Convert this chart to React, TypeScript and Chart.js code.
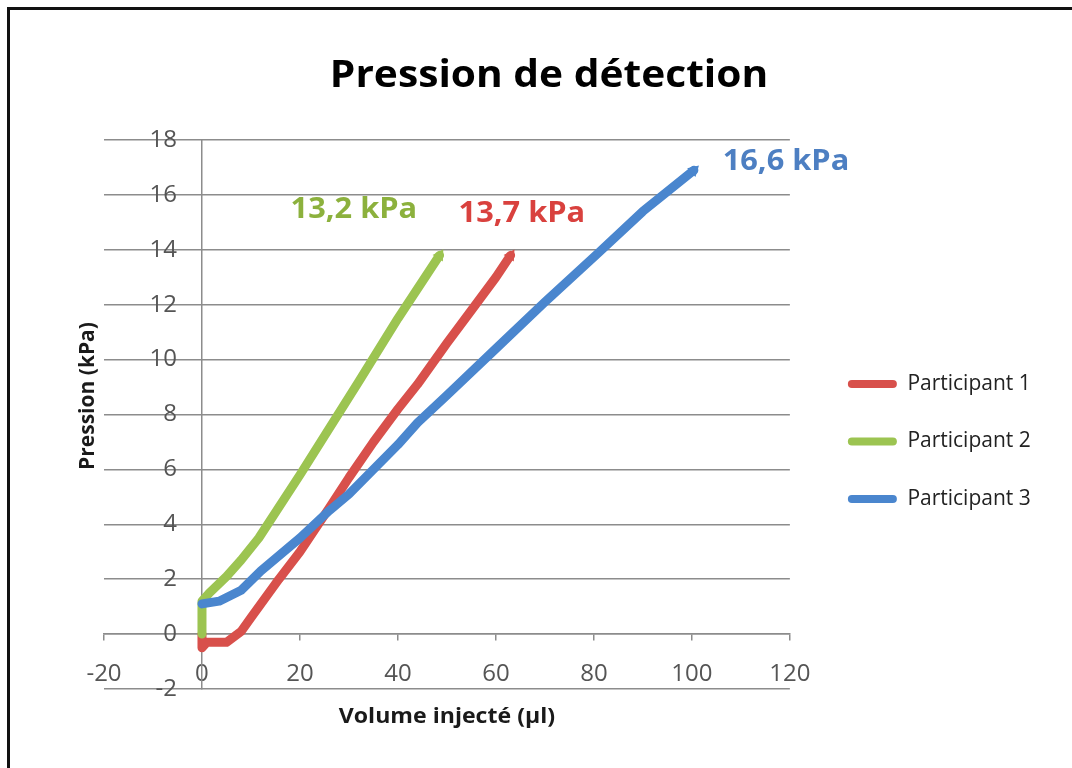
import React, { useEffect, useRef } from 'react';
import { Chart, registerables } from 'chart.js';

Chart.register(...registerables);

// ---- data ----
const seriesLabels = ['Participant 1', 'Participant 2', 'Participant 3'];
const lineColors = ['#D8504B', '#9CC451', '#4A86CE'];
const noteColors = ['#D9413E', '#8CB13D', '#4D7FC2'];
const tipRotation = [33, 32, 47];

const p1X = [0, 0, 1, 5, 8, 10, 15.7, 20, 26, 30, 35, 40, 44, 50, 55, 60, 63];
const p1Y = [0, -0.5, -0.3, -0.3, 0.1, 0.6, 2.0, 3.0, 4.6, 5.7, 7.0, 8.2, 9.1, 10.6, 11.8, 13.0, 13.8];
const p2X = [0, 0, 1.5, 5, 8, 11.6, 20, 32, 40, 48.5];
const p2Y = [0, 1.2, 1.5, 2.1, 2.7, 3.5, 5.8, 9.2, 11.5, 13.8];
const p3X = [0, 3.5, 8, 12, 16, 20, 26, 30, 40, 44, 50, 60, 70, 81, 90, 100.4];
const p3Y = [1.1, 1.2, 1.6, 2.3, 2.9, 3.5, 4.5, 5.1, 6.9, 7.7, 8.7, 10.4, 12.1, 13.9, 15.4, 16.9];

const noteTexts = ['13,7 kPa', '13,2 kPa', '16,6 kPa'];
const noteX = [65.3, 31, 119.2];
const noteY = [15.3, 15.45, 17.2];

const chartTitle = 'Pression de détection';
const xTitle = 'Volume injecté (µl)';
const yTitle = 'Pression (kPa)';

const xMin = -20, xMax = 120, xStep = 20;
const yMin = -2, yMax = 18, yStep = 2;

const FONT = '"Open Sans", sans-serif';
const STRETCH = 1.1;
const LEGEND_SHIFT = 21.5;

const toPoints = (xs: number[], ys: number[]) => xs.map((x, i) => ({ x, y: ys[i] }));

const drawText = (ctx: any, t: string, x: number, y: number, rot = 0) => {
  ctx.save();
  ctx.translate(x, y);
  if (rot) ctx.rotate(rot);
  else ctx.scale(STRETCH, 1);
  ctx.fillText(t, 0, 0);
  ctx.restore();
};

const textPlugin = {
  id: 'texts',
  afterLayout(chart: any) {
    const l = chart.legend;
    if (l) {
      l.left += LEGEND_SHIFT;
      l.right += LEGEND_SHIFT;
    }
  },
  afterDraw(chart: any) {
    const { ctx, scales, chartArea } = chart;
    ctx.save();
    ctx.textAlign = 'center';
    ctx.textBaseline = 'middle';
    ctx.fillStyle = '#000';
    ctx.font = `bold 37px ${FONT}`;
    drawText(ctx, chartTitle, 549, 76);
    ctx.fillStyle = '#1a1a1a';
    ctx.font = `bold 21px ${FONT}`;
    drawText(ctx, xTitle, (chartArea.left + chartArea.right) / 2, 717);
    drawText(ctx, yTitle, 88, 396, -Math.PI / 2);
    ctx.font = `bold 28px ${FONT}`;
    noteTexts.forEach((t, i) => {
      ctx.fillStyle = noteColors[i];
      drawText(ctx, t, scales.x.getPixelForValue(noteX[i]), scales.y.getPixelForValue(noteY[i]));
    });
    ctx.restore();
  },
};

export default function App() {
  const ref = useRef<HTMLCanvasElement>(null);
  useEffect(() => {
    if (!ref.current) return;
    const series = [toPoints(p1X, p1Y), toPoints(p2X, p2Y), toPoints(p3X, p3Y)];
    const chart = new Chart(ref.current, {
      type: 'line',
      data: {
        datasets: series.map((data, i) => ({
          label: seriesLabels[i],
          data,
          xAxisID: 'x',
          yAxisID: 'y',
          borderColor: lineColors[i],
          backgroundColor: lineColors[i],
          borderWidth: 9,
          borderCapStyle: 'round',
          borderJoinStyle: 'round',
          pointRadius: (c: any) => (c.dataIndex === data.length - 1 ? 7 : 0),
          pointStyle: 'triangle',
          pointRotation: tipRotation[i],
          pointBorderWidth: 0,
          pointBackgroundColor: lineColors[i],
          tension: 0,
          fill: false,
          order: 2 - i,
        })),
      },
      options: {
        responsive: false,
        animation: false,
        layout: { padding: { left: 104, top: 140, bottom: 79, right: 53.5 } },
        plugins: {
          title: { display: false },
          tooltip: { enabled: false },
          legend: {
            display: true,
            position: 'right',
            title: { display: true, text: '', font: { size: 12 }, padding: { top: 0, bottom: 39.6 } },
            labels: {
              font: { family: FONT, size: 21 },
              color: '#222',
              boxWidth: 49,
              boxHeight: 8,
              padding: 36.5,
              useBorderRadius: true,
              borderRadius: 4,
              sort: (a: any, b: any) => a.datasetIndex - b.datasetIndex,
              generateLabels: (c: any) =>
                Chart.defaults.plugins.legend.labels.generateLabels(c).map((it: any) => ({
                  ...it,
                  lineWidth: 0,
                  pointStyle: undefined,
                  rotation: 0,
                  fillStyle: lineColors[it.datasetIndex],
                })),
            },
          },
        },
        scales: {
          x: {
            type: 'linear',
            min: xMin,
            max: xMax,
            position: { y: 0 },
            ticks: { stepSize: xStep, padding: 20, color: '#555', font: { family: FONT, size: 24 } },
            grid: { drawOnChartArea: false, drawTicks: true, tickLength: 6, color: '#8c8c8c', lineWidth: 1.5 },
            border: { display: true, color: '#8c8c8c', width: 1.5 },
          },
          y: {
            type: 'linear',
            min: yMin,
            max: yMax,
            position: { x: 0 },
            ticks: {
              stepSize: yStep,
              color: '#555',
              font: { family: FONT, size: 24 },
              callback: (v: any) => `${v}    `,
            },
            grid: { drawTicks: false, color: '#8c8c8c', lineWidth: 1.5 },
            border: { display: true, color: '#8c8c8c', width: 1.5 },
          },
        },
      } as any,
      plugins: [textPlugin],
    });
    return () => chart.destroy();
  }, []);

  return (
    <div style={{ position: 'fixed', left: 0, top: 0, width: 1072, height: 768, background: '#fff', overflow: 'hidden' }}>
      <canvas ref={ref} width={1072} height={768} style={{ display: 'block' }} />
      <div
        style={{
          position: 'absolute',
          left: 7,
          top: 7,
          width: 1080,
          height: 780,
          borderTop: '3px solid #111',
          borderLeft: '3px solid #111',
          pointerEvents: 'none',
        }}
      />
    </div>
  );
}
